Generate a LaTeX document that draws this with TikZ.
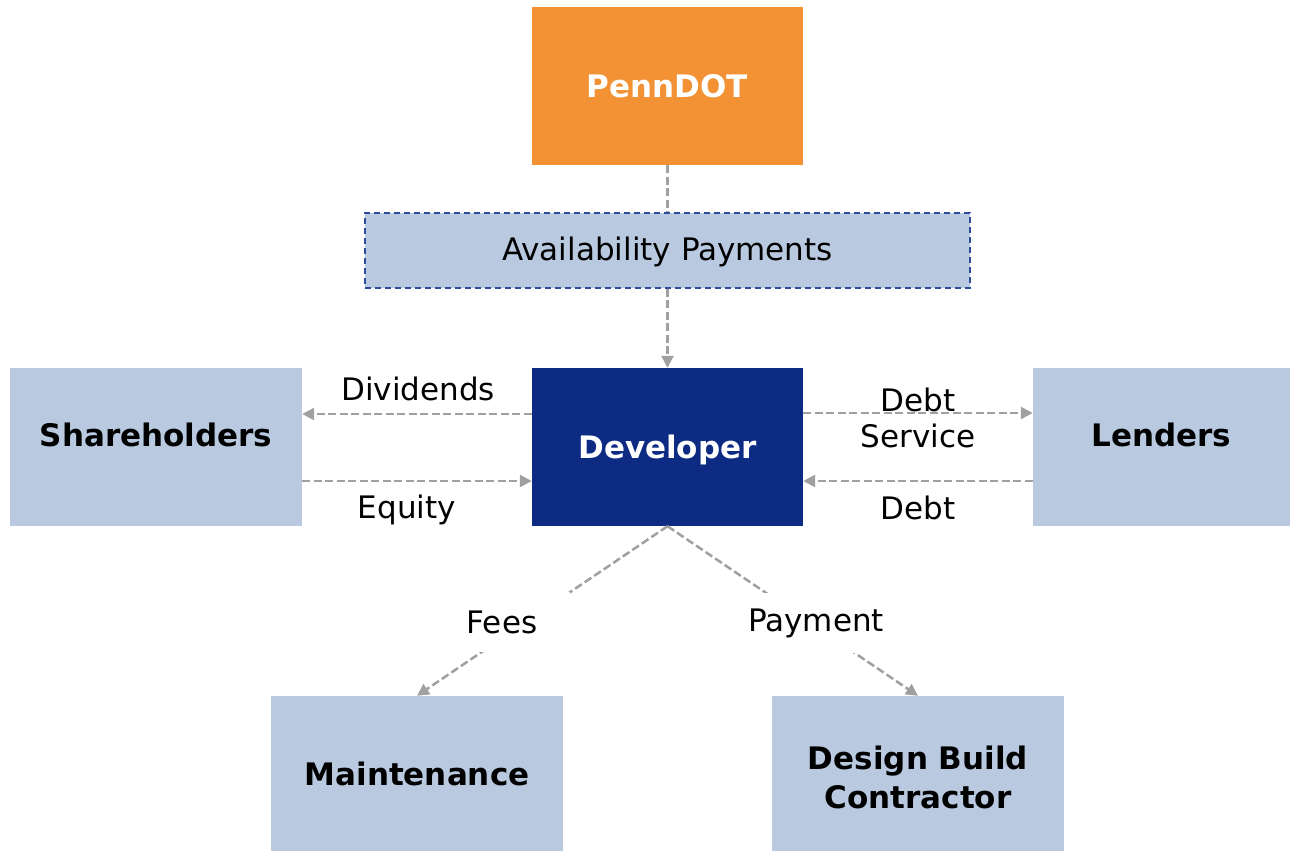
\documentclass[tikz,border=0pt]{standalone}
\usepackage{fontspec}
\setmainfont{DejaVu Sans}
\usetikzlibrary{arrows.meta}
\definecolor{penn}{HTML}{F39234}
\definecolor{navy}{HTML}{0E2B84}
\definecolor{pale}{HTML}{B8C9E0}
\definecolor{apborder}{HTML}{2E4A9A}
\definecolor{conngray}{HTML}{A0A0A0}
\tikzset{
  box/.style={rectangle, inner sep=0pt, font=\fontsize{31}{37}\selectfont\bfseries},
  onebox/.style={box, text height=23pt, text depth=#1},
  onebox/.default=0pt,
  palebox/.style={fill=pale},
  conn/.style={draw=conngray, line width=2.5pt, dash pattern=on 8pt off 3.5pt},
  arr/.style={conn, -{Triangle[length=12pt,width=12pt]}},
  lbl/.style={font=\fontsize{31}{37}\selectfont, inner sep=0pt, align=center},
  masklbl/.style={lbl, fill=white}
}
\begin{document}
\begin{tikzpicture}[x=1pt,y=-1pt]
\useasboundingbox (0,0) rectangle (1290,852);
% boxes
\node[onebox=-8pt, fill=penn, text=white, minimum width=271pt, minimum height=158pt] (penn) at (667.5,86) {PennDOT};
\node[lbl, fill=pale, draw=apborder, line width=1.5pt, dash pattern=on 6pt off 4pt, minimum width=605pt, minimum height=75pt] (ap) at (667.5,250.5) {\rule{0pt}{27pt}Availability Payments};
\node[onebox=-8pt, fill=navy, text=white, minimum width=271pt, minimum height=158pt] (dev) at (667.5,447) {Developer};
\node[onebox=24pt, palebox, minimum width=292pt, minimum height=158pt] (share) at (156,447) {Shareholders};
\node[onebox=24pt, palebox, minimum width=257pt, minimum height=158pt] (lend) at (1161.5,447) {Lenders};
\node[onebox=-12pt, palebox, minimum width=292pt, minimum height=155pt] (maint) at (417,773.5) {Maintenance};
\node[box, align=center, palebox, minimum width=292pt, minimum height=155pt] (dbc) at (918,773.5) {\rule{0pt}{31pt}Design Build\\[2pt]Contractor};
% connectors
\draw[conn] (penn.south) -- (ap.north);
\draw[arr] (ap.south) -- (dev.north);
\draw[arr] ([yshift=33pt]dev.west) -- ([yshift=33pt]share.east);
\draw[arr] ([yshift=-34pt]share.east) -- ([yshift=-34pt]dev.west);
\draw[arr] ([yshift=34pt]dev.east) -- ([yshift=34pt]lend.west);
\draw[arr] ([yshift=-34pt]lend.west) -- ([yshift=-34pt]dev.east);
\draw[arr] (dev.south) -- (maint.north);
\draw[arr] (dev.south) -- (dbc.north);
% labels
\node[lbl] (ldiv) at (418,389) {Dividends};
\node[lbl] (lequ) at (407,510) {Equity};
\node[lbl] (lds) at (918,418) {Debt\\[-1pt]Service};
\node[lbl] (ldebt) at (918,508) {Debt};
\node[masklbl, minimum width=136pt, minimum height=60pt] (lfees) at (502,622) {Fees};
\node[masklbl, minimum width=140pt, minimum height=60pt] (lpay) at (816,623) {Payment};
\end{tikzpicture}
\end{document}
